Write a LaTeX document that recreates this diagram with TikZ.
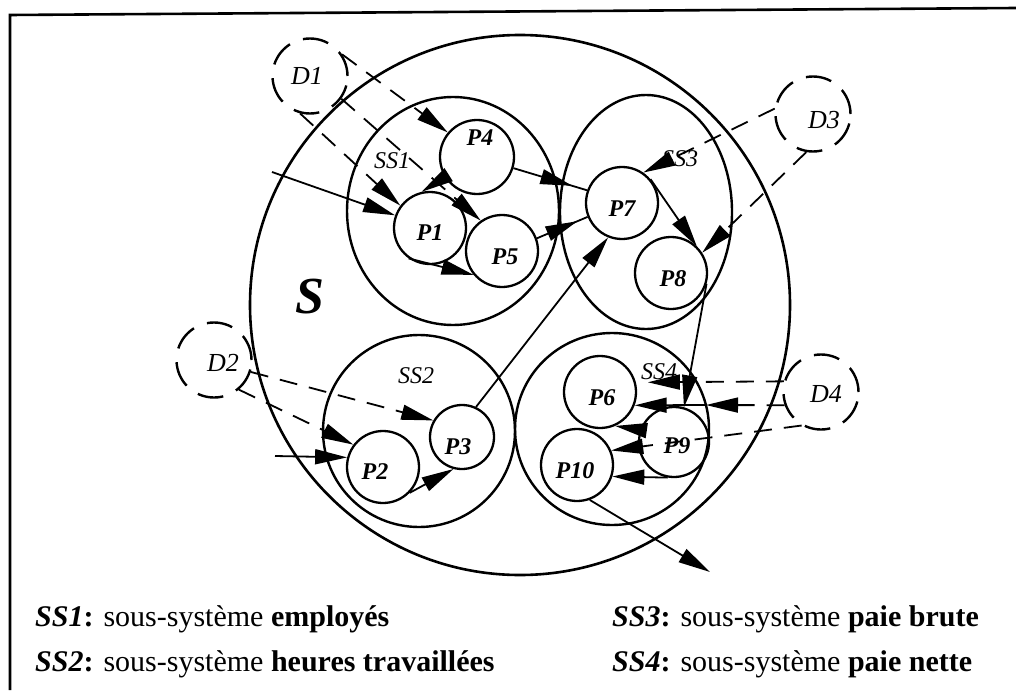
\documentclass[tikz,border=0pt]{standalone}
\usepackage{fontspec}
\setmainfont{Liberation Serif}
\usetikzlibrary{arrows.meta,shapes.geometric,decorations.markings}

\tikzset{
  flowtip/.tip={Triangle[length=32pt,width=15pt]},
  frameline/.style={line width=2.6pt},
  sysring/.style={circle,draw,line width=2.6pt,minimum size=540pt,inner sep=0pt},
  subring/.style={ellipse,draw,line width=2.4pt,inner sep=0pt},
  proc/.style={circle,draw,line width=2.3pt,minimum size=72pt,inner sep=0pt},
  store/.style={circle,draw,line width=2.4pt,minimum size=75pt,inner sep=0pt,dash pattern=on 26pt off 14pt},
  flow/.style={line width=1.8pt,-{flowtip}},
  dflow/.style={flow,dash pattern=on 18pt off 12pt},
  plainline/.style={line width=1.8pt},
  midtip/.style={decoration={markings,mark=at position #1 with {\arrow{flowtip}}},postaction={decorate}},
  plabel/.style={font=\fontsize{24}{24}\selectfont\bfseries\itshape},
  dlabel/.style={font=\fontsize{26}{26}\selectfont\itshape},
  sslabel/.style={font=\fontsize{24}{24}\selectfont\itshape,inner sep=0pt},
  biglabel/.style={font=\fontsize{52}{52}\selectfont\bfseries\itshape},
  legend/.style={font=\fontsize{30}{30}\selectfont,inner sep=0pt,anchor=base west},
}

\begin{document}
\begin{tikzpicture}[x=1pt,y=-1pt]
\useasboundingbox (0,0) rectangle (1016,690);

% frame (top and left rules)
\coordinate (ftr) at (1016,8);
\coordinate (ftl) at (10,15);
\coordinate (fbl) at (10,690);
\draw[frameline] (ftr) -- (ftl) -- (fbl);

% system and sub-systems
\node[sysring] (S) at (520,305) {};
\node[biglabel] (slabel) at (310,297) {S};
\node[subring,minimum width=212pt,minimum height=228pt] (ss1) at (453,211) {};
\node[subring,minimum width=172pt,minimum height=234pt] (ss3) at (646,212) {};
\node[subring,minimum width=192pt,minimum height=192pt] (ss2) at (419,431) {};
\node[subring,minimum width=194pt,minimum height=192pt] (ss4) at (612,429) {};
\node[sslabel] (ss1l) at (392,161) {SS1};
\node[sslabel] (ss2l) at (416,376) {SS2};
\node[sslabel] (ss3l) at (680,159) {SS3};
\node[sslabel] (ss4l) at (659,372) {SS4};

% data stores
\node[store,label={[dlabel,xshift=-3pt]center:D1}] (d1) at (310,76) {};
\node[store,label={[dlabel,xshift=9pt,yshift=-3pt]center:D2}] (d2) at (214,360) {};
\node[store,label={[dlabel,xshift=11pt,yshift=-6pt]center:D3}] (d3) at (813,114) {};
\node[store,label={[dlabel,xshift=5pt,yshift=-2pt]center:D4}] (d4) at (821,392) {};

% processes
\node[proc,minimum size=74pt,label={[plabel,xshift=3pt,yshift=19pt]center:P4}] (p4) at (477,157) {};
\node[proc,label={[plabel,yshift=-5pt]center:P1}] (p1) at (430,228) {};
\node[proc,label={[plabel,xshift=3pt,yshift=-6pt]center:P5}] (p5) at (502,251) {};
\node[proc,label={[plabel,yshift=-6pt]center:P7}] (p7) at (622,203) {};
\node[proc,label={[plabel,xshift=2pt,yshift=-6pt]center:P8}] (p8) at (671,273) {};
\node[proc,label={[plabel,xshift=-8pt,yshift=-5pt]center:P2}] (p2) at (383,467) {};
\node[proc,minimum size=64pt,label={[plabel,xshift=-4pt,yshift=-10pt]center:P3}] (p3) at (462,437) {};
\node[proc,label={[plabel,xshift=2pt,yshift=-6pt]center:P6}] (p6) at (600,392) {};
\node[proc,minimum size=70pt,label={[plabel,xshift=3pt,yshift=-4pt]center:P9}] (p9) at (674,442) {};
\node[proc,label={[plabel,xshift=-2pt,yshift=-6pt]center:P10}] (p10) at (577,465) {};

% free ends of flows
\coordinate (in1) at (272,172);
\coordinate (in2) at (275,456);
\coordinate (out1) at (710,572);
\coordinate (k4) at (706,405);

% flows of SS1
\draw[dflow] (d1.34) -- (p4.140);
\draw[dflow] (d1.-36) -- (p5.125);
\draw[dflow] (d1.-105) -- (p1.143);
\draw[flow] (in1) -- (p1.160);
\draw[flow] (p4.212) -- (p1.103);
\draw[flow] (p1.-125) -- (p5.-140);
\draw[plainline,midtip=0.8] (p4.-17) -- (p7.160);
\draw[plainline,midtip=0.8] (p5.20) -- (p7.202);

% flows of SS2
\draw[dflow] (d2.-18) -- (p3.150);
\draw[dflow] (d2.-50) -- (p2.143);
\draw[flow] (in2) -- (p2.165);
\draw[flow] (p2.-44) -- (p3.-105);
\draw[flow] (p3.65) -- (p7.-112);

% flows of SS3
\draw[dflow] (d3.172) -- (p7.55);
\draw[dflow] (d3.-100) -- (p8.33);
\draw[flow] (p7.40) -- (p8.46);
\draw[flow] (p8.-17) -- (p9.74);

% flows of SS4
\draw[dflow,shorten >=12pt] (d4.164) -- (p6.15);
\draw[dflow] (d4.200) -- (k4);
\draw[flow] (k4) -- (p6.-21);
\draw[flow] (p9.160) -- (p6.-66);
\draw[dflow] (d4.-120) -- (p10.23);
\draw[flow] (p9.-100) -- (p10.-18);
\draw[flow] (p10.-70) -- (out1);

% legend
\node[legend] (leg1) at (35,626) {\textbf{\textit{SS1}:} sous-système \textbf{employés}};
\node[legend] (leg2) at (35,671) {\textbf{\textit{SS2}:} sous-système \textbf{heures travaillées}};
\node[legend] (leg3) at (612,626) {\textbf{\textit{SS3}:} sous-système \textbf{paie brute}};
\node[legend] (leg4) at (612,671) {\textbf{\textit{SS4}:} sous-système \textbf{paie nette}};
\end{tikzpicture}
\end{document}
